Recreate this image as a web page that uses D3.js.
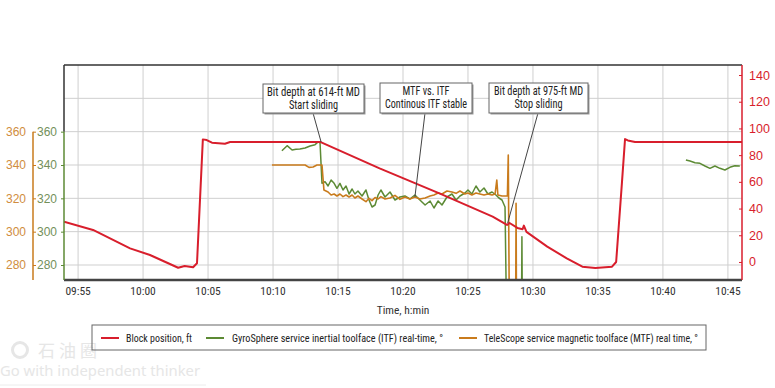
<!DOCTYPE html>
<html>
<head>
<meta charset="utf-8">
<script src="https://cdn.jsdelivr.net/npm/d3@7"></script>
<style>
  body { margin: 0; background: #fff; }
  svg { display: block; font-family: "Liberation Sans Narrow", "Arial Narrow", "Roboto Condensed", "Liberation Sans", sans-serif; }
</style>
</head>
<body>
<svg width="775" height="388"></svg>
<script>
// ---- data ----
const xTickLabels = ["09:55", "10:00", "10:05", "10:10", "10:15", "10:20", "10:25", "10:30", "10:35", "10:40", "10:45"];
const toolfaceTicks = [280, 300, 320, 340, 360];
const toolfaceGrid = [280, 300, 320, 340, 360, 380];
const blockTicks = [0, 20, 40, 60, 80, 100, 120, 140];

// block position, ft (right axis)
const blockPosition = [
  ["09:53:55", 30.2], ["09:56:09", 24], ["09:59:00", 10.2], ["10:00:32", 5.2],
  ["10:02:42", -4.3], ["10:03:12", -3], ["10:03:51", -4], ["10:04:09", -1],
  ["10:04:36", 91.8], ["10:04:54", 91.3], ["10:05:18", 89.3], ["10:06:18", 88.5],
  ["10:06:42", 89.8], ["10:13:40", 89.8], ["10:18:12", 70.1], ["10:22:48", 51.4],
  ["10:26:54", 34], ["10:28:00", 27.7], ["10:28:12", 29.2], ["10:28:48", 25.5],
  ["10:29:12", 24.5], ["10:29:18", 27.2], ["10:29:30", 22.5], ["10:31:06", 11.5],
  ["10:32:36", 2.7], ["10:33:48", -3.5], ["10:34:48", -4.5], ["10:36:05", -3.5],
  ["10:36:24", 0], ["10:36:51", 60], ["10:37:05", 92], ["10:37:18", 91],
  ["10:37:51", 89.8], ["10:46:05", 89.8]
];

// GyroSphere ITF, deg (null breaks the line)
const itfRealTime = [
  ["10:10:41", 348.6], ["10:11:05", 351.6], ["10:11:28", 349], ["10:11:46", 349.4],
  ["10:12:04", 349.6], ["10:12:28", 350.2], ["10:12:51", 351.4], ["10:13:14", 352.2],
  ["10:13:28", 353.8], ["10:13:37", 353.4], ["10:13:46", 329], ["10:14:00", 330],
  ["10:14:14", 327.4], ["10:14:28", 331], ["10:14:42", 329], ["10:14:55", 326],
  ["10:15:09", 329], ["10:15:23", 325], ["10:15:37", 327.4], ["10:15:51", 322.6],
  ["10:16:05", 325.6], ["10:16:18", 322.6], ["10:16:32", 324.4], ["10:16:51", 321.4],
  ["10:17:09", 325], ["10:17:23", 319], ["10:17:37", 314.8], ["10:17:51", 316],
  ["10:18:05", 322], ["10:18:18", 325], ["10:18:37", 320.8], ["10:19:00", 323.8],
  ["10:19:23", 319], ["10:19:46", 320.8], ["10:20:09", 321.4], ["10:20:32", 319.6],
  ["10:20:55", 322], ["10:21:18", 319], ["10:21:42", 316], ["10:22:05", 318.4],
  ["10:22:23", 314.2], ["10:22:42", 318.4], ["10:23:00", 316], ["10:23:23", 320.8],
  ["10:23:46", 322.6], ["10:24:05", 319], ["10:24:23", 321.4], ["10:24:46", 323.2],
  ["10:25:00", 325], ["10:25:18", 322.6], ["10:25:37", 327.4], ["10:25:55", 323.8],
  ["10:26:14", 326.2], ["10:26:32", 322.6], ["10:26:51", 323.8], ["10:27:09", 322],
  ["10:27:23", 320.2], ["10:27:37", 319], ["10:27:51", 314.8], ["10:27:58", 250],
  ["10:28:30", null],
  ["10:29:07", 250], ["10:29:09", 297], ["10:29:11", 250],
  ["10:35:00", null],
  ["10:41:46", 343], ["10:42:05", 342.4], ["10:42:28", 341.4], ["10:42:51", 341],
  ["10:43:14", 339.4], ["10:43:37", 338], ["10:44:00", 339.4], ["10:44:23", 338],
  ["10:44:46", 337], ["10:45:09", 338.6], ["10:45:32", 339.5], ["10:45:55", 339.4]
];

// TeleScope MTF, deg
const mtfRealTime = [
  ["10:09:55", 340], ["10:10:32", 340], ["10:11:18", 340], ["10:12:05", 340],
  ["10:12:28", 340], ["10:12:46", 338.6], ["10:13:05", 338.8], ["10:13:23", 340],
  ["10:13:46", 340], ["10:13:55", 325], ["10:14:14", 323.8], ["10:14:28", 322],
  ["10:14:42", 322.6], ["10:14:55", 321.4], ["10:15:09", 322.6], ["10:15:23", 321],
  ["10:15:37", 322], ["10:15:51", 320.8], ["10:16:05", 322], ["10:16:18", 320.2],
  ["10:16:32", 321.4], ["10:16:51", 319.6], ["10:17:09", 318], ["10:17:23", 320],
  ["10:17:37", 318.6], ["10:17:51", 320.5], ["10:18:05", 319.6], ["10:18:18", 321],
  ["10:18:37", 319.6], ["10:19:00", 320.2], ["10:19:23", 321.8], ["10:19:46", 319.4],
  ["10:20:09", 320.8], ["10:20:32", 319.6], ["10:20:55", 320.8], ["10:21:18", 319.6],
  ["10:21:42", 320.2], ["10:22:05", 321.4], ["10:22:23", 322], ["10:22:42", 323.2],
  ["10:23:00", 322.6], ["10:23:23", 324.4], ["10:23:46", 323.8], ["10:24:05", 323],
  ["10:24:23", 324.4], ["10:24:46", 322.6], ["10:25:00", 323.2], ["10:25:18", 322],
  ["10:25:37", 323.2], ["10:25:55", 322.6], ["10:26:14", 322], ["10:26:32", 322.6],
  ["10:26:51", 322], ["10:27:05", 322.6], ["10:27:13", 331], ["10:27:18", 322],
  ["10:27:37", 321.4], ["10:27:51", 321.4], ["10:28:02", 321.4], ["10:28:06", 346],
  ["10:28:11", 250],
  ["10:28:25", null],
  ["10:28:40", 250], ["10:28:42", 317], ["10:28:44", 250]
];

const legendLabels = [
  "Block position, ft",
  "GyroSphere service inertial toolface (ITF) real-time, °",
  "TeleScope service magnetic toolface (MTF) real time, °"
];

const callouts = [
  { lines: ["Bit depth at 614-ft MD", "Start sliding"], time: "10:13:42", value: 89.8, axis: "block" },
  { lines: ["MTF vs. ITF", "Continous ITF stable"], time: "10:20:55", value: 320.8, axis: "toolface" },
  { lines: ["Bit depth at 975-ft MD", "Stop sliding"], time: "10:28:03", value: 29, axis: "block" }
];

// ---- layout ----
const RED = "#d81e2c";
const GREEN = "#5c8a34";
const ORANGE = "#c97b1c";
const LEFT = 64, RIGHT = 742, TOP = 65, BOTTOM = 280;

const parseTime = d3.timeParse("%H:%M:%S");
const parseTick = d3.timeParse("%H:%M");

const x = d3.scaleTime()
  .domain([parseTime("09:53:55"), parseTime("10:46:05")])
  .range([LEFT, RIGHT]);
const yTool = d3.scaleLinear().domain([271, 400]).range([BOTTOM, TOP]);
const yBlock = d3.scaleLinear().domain([-13.5, 147.5]).range([BOTTOM, TOP]);

const svg = d3.select("svg");

svg.append("defs").append("clipPath").attr("id", "plot-clip")
  .append("rect").attr("x", LEFT).attr("y", TOP).attr("width", RIGHT - LEFT).attr("height", BOTTOM - TOP);

// grid
const grid = svg.append("g").attr("stroke", "#cfcfcf").attr("stroke-width", 1);
grid.selectAll("line.v")
  .data(xTickLabels)
  .join("line")
  .attr("class", "v")
  .attr("x1", (d) => x(parseTick(d)))
  .attr("x2", (d) => x(parseTick(d)))
  .attr("y1", TOP)
  .attr("y2", BOTTOM);
grid.selectAll("line.h")
  .data(toolfaceGrid)
  .join("line")
  .attr("class", "h")
  .attr("x1", LEFT)
  .attr("x2", RIGHT)
  .attr("y1", (d) => yTool(d))
  .attr("y2", (d) => yTool(d));

// frame
svg.append("line").attr("x1", LEFT).attr("x2", RIGHT).attr("y1", TOP).attr("y2", TOP)
  .attr("stroke", "#333").attr("stroke-width", 1.5);
svg.append("line").attr("x1", LEFT).attr("x2", LEFT).attr("y1", TOP).attr("y2", yTool(360))
  .attr("stroke", "#333").attr("stroke-width", 1.5);

// series
const plot = svg.append("g").attr("clip-path", "url(#plot-clip)").attr("fill", "none");
const toolLine = d3.line()
  .defined((d) => d[1] !== null)
  .x((d) => x(parseTime(d[0])))
  .y((d) => yTool(d[1]));
const blockLine = d3.line()
  .x((d) => x(parseTime(d[0])))
  .y((d) => yBlock(d[1]));

plot.append("path").datum(itfRealTime).attr("d", toolLine)
  .attr("stroke", GREEN).attr("stroke-width", 1.5).attr("stroke-linejoin", "round");
plot.append("path").datum(mtfRealTime).attr("d", toolLine)
  .attr("stroke", ORANGE).attr("stroke-width", 1.6).attr("stroke-linejoin", "round");
plot.append("path").datum(blockPosition).attr("d", blockLine)
  .attr("stroke", RED).attr("stroke-width", 2).attr("stroke-linejoin", "round");

// bottom axis
svg.append("line").attr("x1", LEFT).attr("x2", RIGHT).attr("y1", BOTTOM).attr("y2", BOTTOM)
  .attr("stroke", "#444").attr("stroke-width", 2.5);
svg.append("g")
  .selectAll("text")
  .data(xTickLabels)
  .join("text")
  .attr("x", (d) => x(parseTick(d)))
  .attr("y", 295)
  .attr("text-anchor", "middle")
  .attr("font-size", 11.5)
  .attr("fill", "#333")
  .text((d) => d);
svg.append("text").attr("x", 403).attr("y", 314).attr("text-anchor", "middle")
  .attr("font-size", 11.5).attr("fill", "#333").text("Time, h:min");

// green toolface axis (on plot edge)
const greenAxis = svg.append("g").attr("transform", `translate(${LEFT},0)`)
  .call(d3.axisLeft(yTool).tickValues(toolfaceTicks).tickSize(3).tickPadding(4));
greenAxis.select(".domain").remove();
greenAxis.append("line").attr("y1", yTool(360)).attr("y2", BOTTOM).attr("stroke", GREEN).attr("stroke-width", 1.5);
greenAxis.selectAll(".tick line").attr("stroke", GREEN);
greenAxis.selectAll(".tick text").attr("fill", "#73905a").attr("font-size", 12)
  .attr("font-family", null);

// orange toolface axis (offset)
const orangeAxis = svg.append("g").attr("transform", "translate(33,0)")
  .call(d3.axisRight(yTool).tickValues(toolfaceTicks).tickSize(3).tickPadding(-10));
orangeAxis.select(".domain").remove();
orangeAxis.append("line").attr("y1", yTool(360)).attr("y2", BOTTOM).attr("stroke", ORANGE).attr("stroke-width", 1.5);
orangeAxis.selectAll(".tick line").attr("stroke", ORANGE);
orangeAxis.selectAll(".tick text").attr("fill", "#d08d3e").attr("font-size", 12)
  .attr("text-anchor", "end").attr("x", -7).attr("font-family", null);

// red block axis
const redAxis = svg.append("g").attr("transform", `translate(${RIGHT},0)`)
  .call(d3.axisRight(yBlock).tickValues(blockTicks).tickSize(-3).tickPadding(7));
redAxis.select(".domain").remove();
redAxis.append("line").attr("y1", TOP).attr("y2", BOTTOM).attr("stroke", RED).attr("stroke-width", 1.5);
redAxis.selectAll(".tick line").attr("stroke", RED);
redAxis.selectAll(".tick text").attr("fill", RED).attr("font-size", 12.5).attr("font-family", null);

// callouts
const boxes = [
  { x: 263, y: 84, w: 101, h: 29, px: 313, widths: [93, 49] },
  { x: 380, y: 83, w: 92, h: 30, px: 425, widths: [47, 82] },
  { x: 489, y: 83, w: 99, h: 30, px: 538, widths: [89, 48] }
];
callouts.forEach((c, i) => {
  const b = boxes[i];
  const scale = c.axis === "block" ? yBlock : yTool;
  const g = svg.append("g");
  g.append("line")
    .attr("x1", b.px).attr("y1", b.y + b.h)
    .attr("x2", x(parseTime(c.time))).attr("y2", scale(c.value))
    .attr("stroke", "#444").attr("stroke-width", 1);
  g.append("rect").attr("x", b.x + 1.5).attr("y", b.y + 1.5).attr("width", b.w).attr("height", b.h)
    .attr("fill", "#9a9a9a");
  g.append("rect").attr("x", b.x).attr("y", b.y).attr("width", b.w).attr("height", b.h)
    .attr("fill", "#fff").attr("stroke", "#666").attr("stroke-width", 1);
  g.selectAll("text")
    .data(c.lines)
    .join("text")
    .attr("x", b.x + b.w / 2)
    .attr("y", (d, j) => b.y + 12 + j * 12.5)
    .attr("text-anchor", "middle")
    .attr("font-size", 12)
    .attr("fill", "#222")
    .attr("textLength", (d, j) => b.widths[j])
    .attr("lengthAdjust", "spacingAndGlyphs")
    .text((d) => d);
});

// watermark
const wm = svg.append("g").attr("fill", "#e6e6e6");
wm.append("circle").attr("cx", 20).attr("cy", 350).attr("r", 7.5).attr("fill", "none")
  .attr("stroke", "#e6e6e6").attr("stroke-width", 3);
wm.append("text").attr("x", 38).attr("y", 357).attr("font-size", 17)
  .attr("font-family", "Noto Sans CJK SC").attr("letter-spacing", 4).text("石油圈");
wm.append("text").attr("x", 0).attr("y", 376).attr("font-size", 14)
  .attr("font-family", "Noto Sans, sans-serif").attr("textLength", 200)
  .attr("lengthAdjust", "spacingAndGlyphs").text("Go with independent thinker");
wm.append("line").attr("x1", 0).attr("x2", 206).attr("y1", 385).attr("y2", 385)
  .attr("stroke", "#ececec").attr("stroke-width", 1);

// legend
const legend = svg.append("g");
legend.append("rect").attr("x", 92).attr("y", 325).attr("width", 614).attr("height", 25)
  .attr("fill", "none").attr("stroke", "#666").attr("stroke-width", 1);
const legendLayout = [
  { sx: 101, tx: 126, w: 66, color: RED },
  { sx: 206, tx: 232, w: 211, color: GREEN },
  { sx: 459, tx: 484, w: 214, color: ORANGE }
];
legend.selectAll("line")
  .data(legendLabels)
  .join("line")
  .attr("x1", (d, i) => legendLayout[i].sx)
  .attr("x2", (d, i) => legendLayout[i].sx + 18)
  .attr("y1", 338)
  .attr("y2", 338)
  .attr("stroke", (d, i) => legendLayout[i].color)
  .attr("stroke-width", 2);
legend.selectAll("text")
  .data(legendLabels)
  .join("text")
  .attr("x", (d, i) => legendLayout[i].tx)
  .attr("y", 342)
  .attr("font-size", 11.5)
  .attr("fill", "#222")
  .attr("textLength", (d, i) => legendLayout[i].w)
  .attr("lengthAdjust", "spacingAndGlyphs")
  .text((d) => d);
</script>
</body>
</html>
